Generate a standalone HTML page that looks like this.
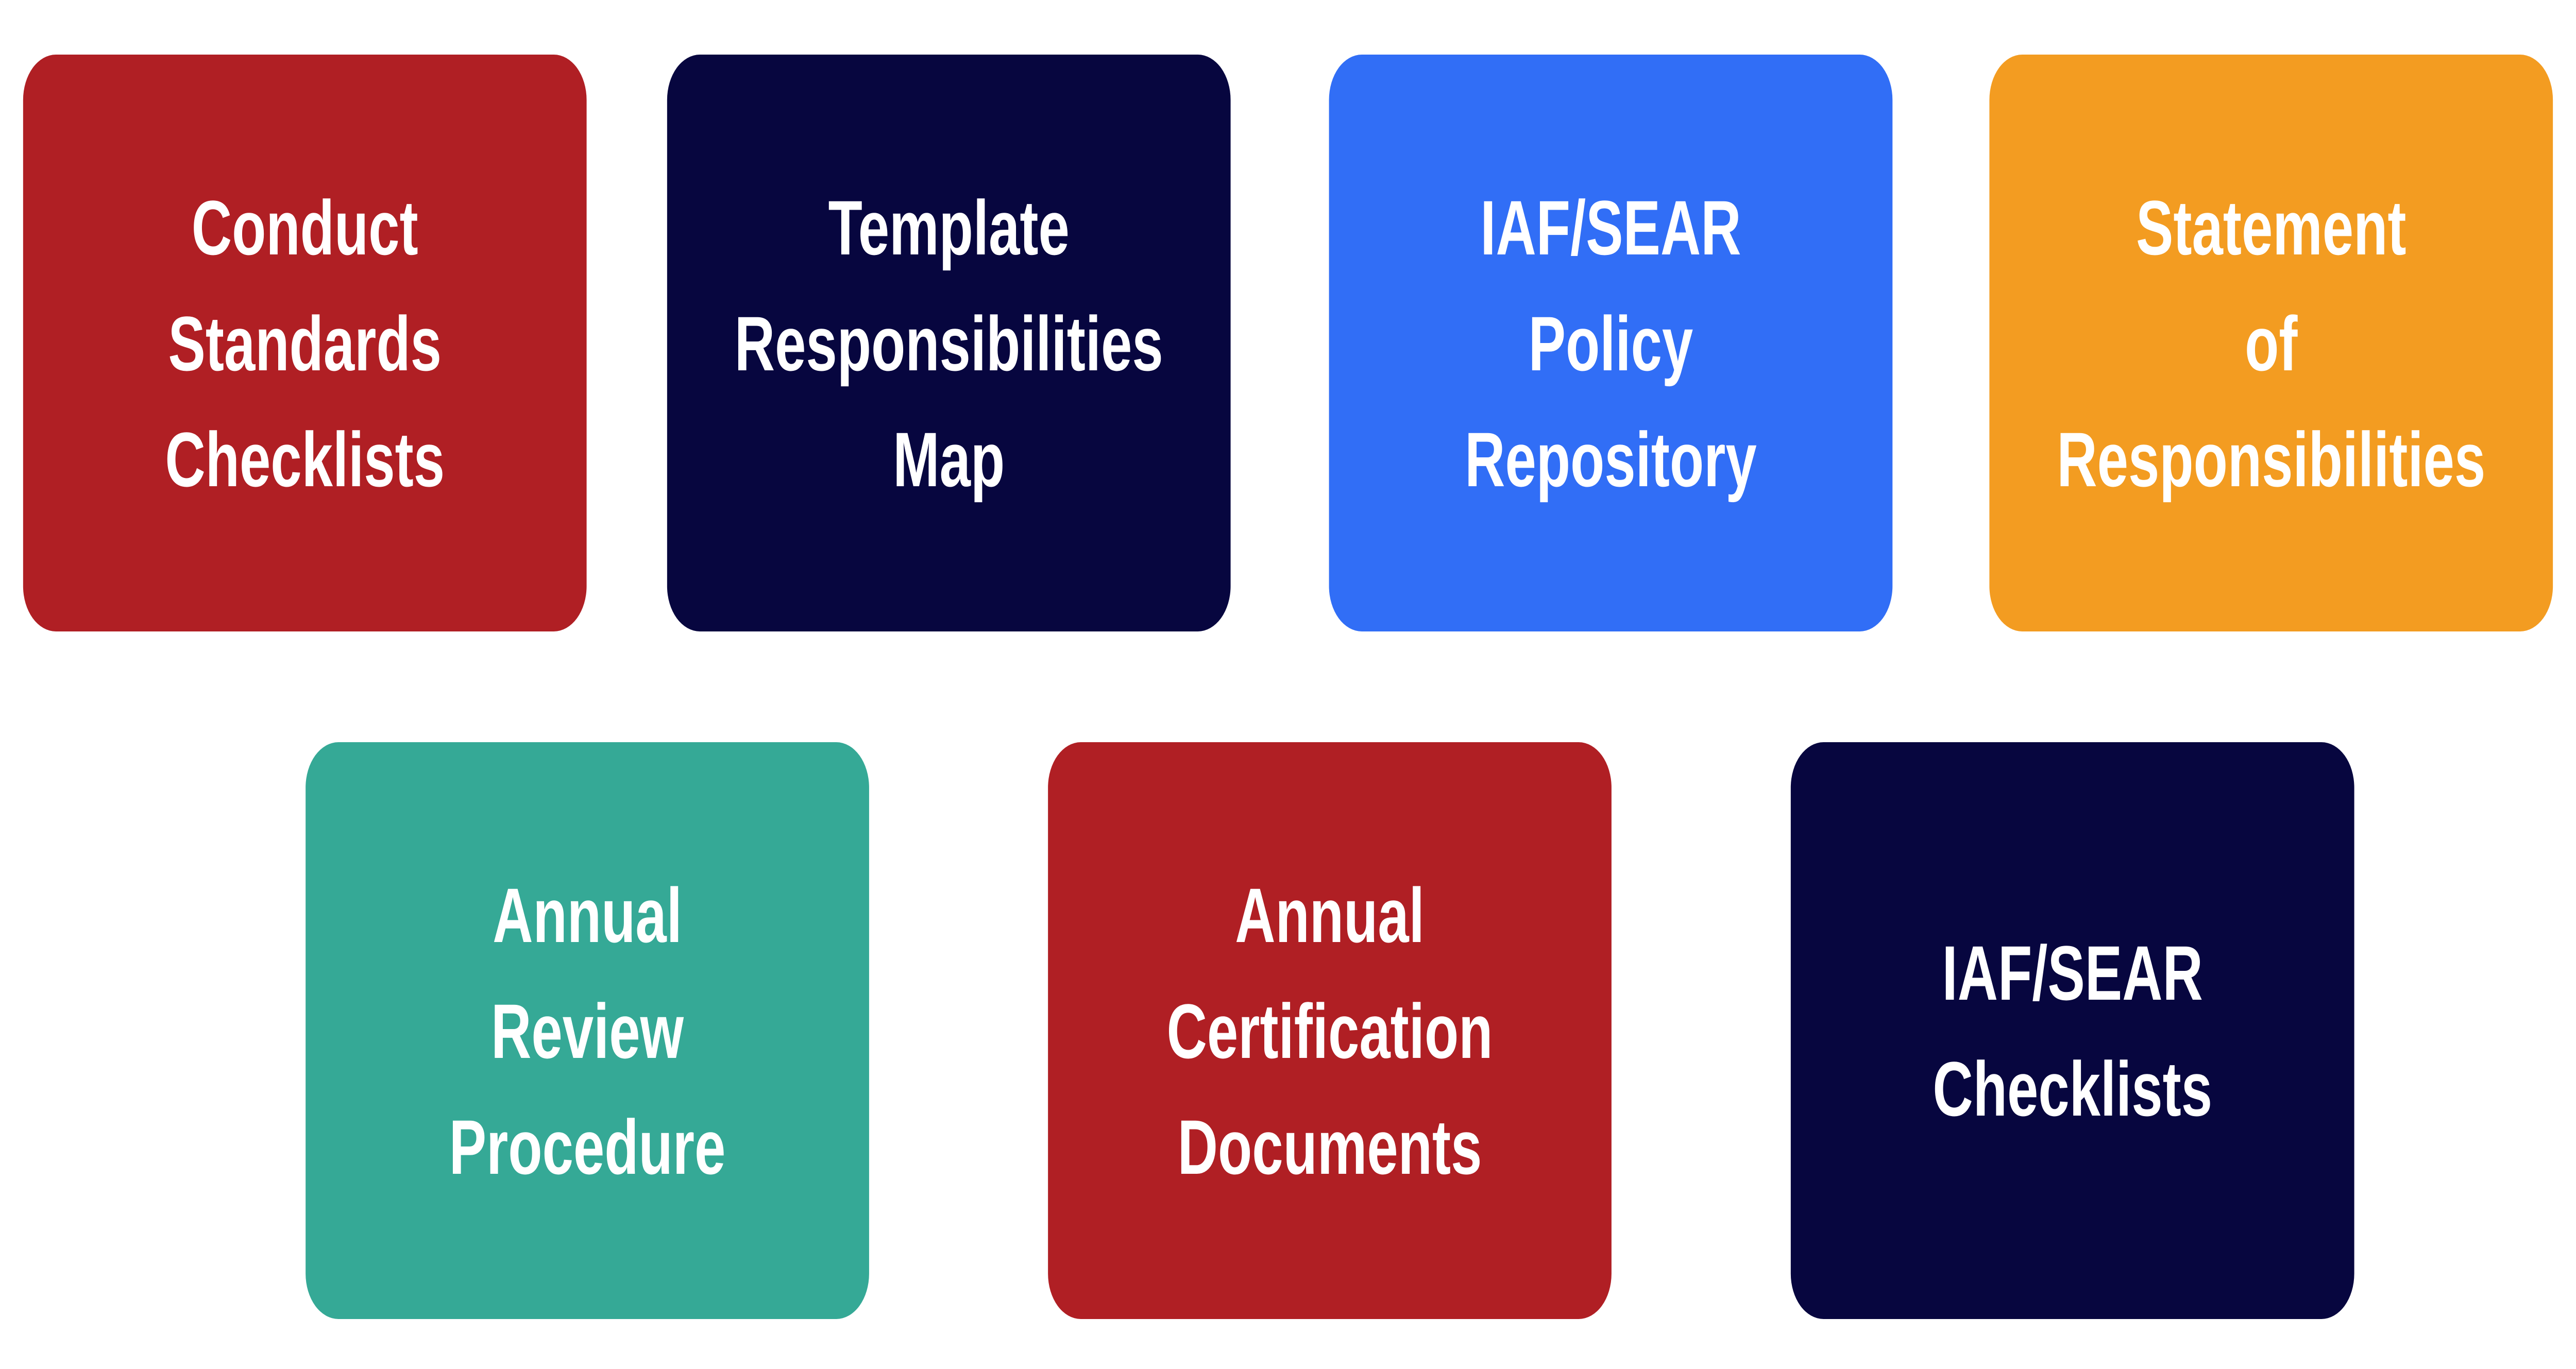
<!DOCTYPE html>
<html>
<head>
<meta charset="utf-8">
<style>
  html, body { margin:0; padding:0; width:100%; height:100%; overflow:hidden; background:#ffffff; }
  svg { display:block; width:100vw; height:100vh; }
  text { font-family:"Liberation Sans", sans-serif; font-weight:bold; font-size:150px; fill:#ffffff; text-anchor:middle; }
</style>
</head>
<body>
<svg viewBox="0 0 6912 2658" preserveAspectRatio="none" xmlns="http://www.w3.org/2000/svg">
  <rect x="0" y="0" width="6912" height="2658" fill="#ffffff"/>
  <rect x="62" y="106" width="1512" height="1120" rx="88" fill="#B01F24"/>
  <rect x="1790" y="106" width="1512" height="1120" rx="88" fill="#07063F"/>
  <rect x="3566" y="106" width="1512" height="1120" rx="88" fill="#316EF6"/>
  <rect x="5338" y="106" width="1512" height="1120" rx="88" fill="#F39C21"/>
  <rect x="820" y="1441" width="1512" height="1120" rx="88" fill="#35A996"/>
  <rect x="2812" y="1441" width="1512" height="1120" rx="88" fill="#B01F24"/>
  <rect x="4805" y="1441" width="1512" height="1120" rx="88" fill="#07063F"/>

  <text x="818" y="494">Conduct</text>
  <text x="818" y="719">Standards</text>
  <text x="818" y="944">Checklists</text>

  <text x="2546" y="494">Template</text>
  <text x="2546" y="719">Responsibilities</text>
  <text x="2546" y="944">Map</text>

  <text x="4322" y="494">IAF/SEAR</text>
  <text x="4322" y="719">Policy</text>
  <text x="4322" y="944">Repository</text>

  <text x="6094" y="494">Statement</text>
  <text x="6094" y="719">of</text>
  <text x="6094" y="944">Responsibilities</text>

  <text x="1576" y="1829">Annual</text>
  <text x="1576" y="2054">Review</text>
  <text x="1576" y="2279">Procedure</text>

  <text x="3568" y="1829">Annual</text>
  <text x="3568" y="2054">Certification</text>
  <text x="3568" y="2279">Documents</text>

  <text x="5561" y="1941">IAF/SEAR</text>
  <text x="5561" y="2166">Checklists</text>
</svg>
</body>
</html>
